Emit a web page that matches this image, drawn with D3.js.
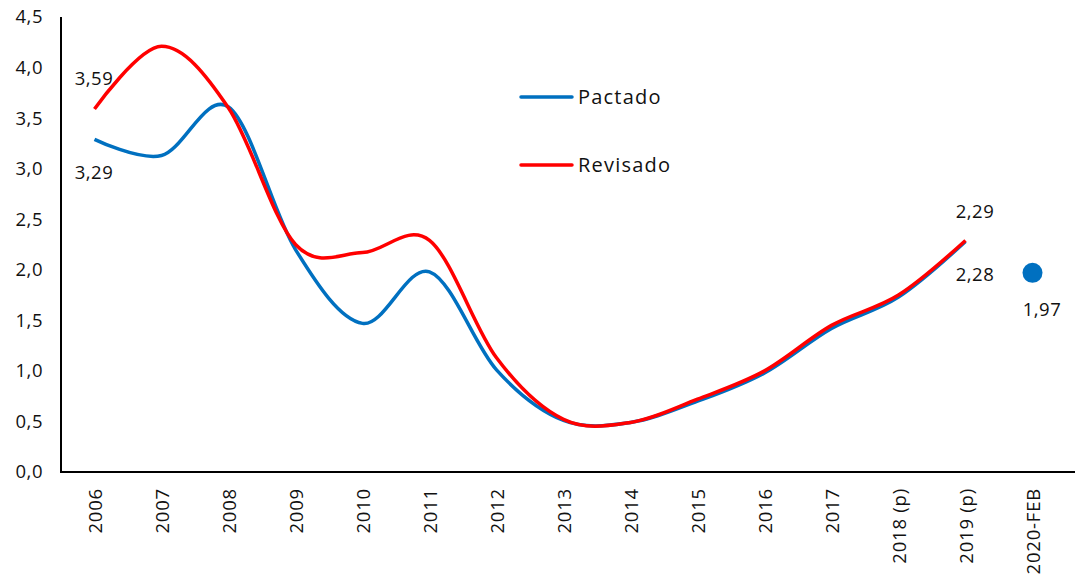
<!DOCTYPE html>
<html><head><meta charset="utf-8">
<script src="https://cdn.jsdelivr.net/npm/d3@7"></script>
<style>body{margin:0;background:#fff;}svg{font-family:"Open Sans",sans-serif;}</style>
</head><body><svg id="c" width="1075" height="575"></svg>
<script>
const categories = ["2006","2007","2008","2009","2010","2011","2012","2013","2014","2015","2016","2017","2018 (p)","2019 (p)","2020-FEB"];
const pactado = [3.29,3.13,3.61,2.20,1.47,1.98,1.01,0.51,0.49,0.70,0.98,1.42,1.73,2.28];
const revisado = [3.59,4.21,3.60,2.25,2.17,2.29,1.13,0.52,0.49,0.72,1.00,1.45,1.75,2.29];
const feb2020 = 1.97;
const yTicks = [0,0.5,1,1.5,2,2.5,3,3.5,4,4.5];
const fmt = v => d3.format(".1f")(v).replace(".", ",");
const fmt2 = v => d3.format(".2f")(v).replace(".", ",");

const svg = d3.select("#c");
const x = d3.scaleBand().domain(categories).range([61,1066]);
const y = d3.scaleLinear().domain([0,4.5]).range([472,17]);
const cx = c => x(c) + x.bandwidth()/2;

// y axis labels
svg.append("g").selectAll("text").data(yTicks).join("text")
  .attr("x",43).attr("y",d=>y(d)).attr("dy","0.35em").attr("text-anchor","end")
  .attr("font-size",18.5).attr("letter-spacing",0.5).attr("fill","#111").text(fmt);
// x labels
svg.append("g").selectAll("text").data(categories).join("text")
  .attr("transform",d=>`translate(${cx(d)+7},488) rotate(-90)`)
  .attr("text-anchor","end").attr("font-size",18.5).attr("letter-spacing",0.8).attr("fill","#111").text(d=>d);

const line = d3.line().x((d,i)=>cx(categories[i])).y(d=>y(d)).curve(d3.curveCardinal.tension(0));
svg.append("path").attr("d",line(pactado)).attr("fill","none").attr("stroke","#0070C0").attr("stroke-width",3.5);
svg.append("path").attr("d",line(revisado)).attr("fill","none").attr("stroke","#FF0000").attr("stroke-width",3.5);

svg.append("circle").attr("cx",cx("2020-FEB")).attr("cy",y(feb2020)).attr("r",10).attr("fill","#0070C0");

// axes
svg.append("line").attr("x1",61).attr("x2",61).attr("y1",17).attr("y2",472).attr("stroke","#000").attr("stroke-width",2);
svg.append("line").attr("x1",60).attr("x2",1075).attr("y1",472).attr("y2",472).attr("stroke","#000").attr("stroke-width",2);

// data labels
const lab = (t,xx,yy)=>svg.append("text").attr("x",xx).attr("y",yy).attr("dy","0.35em").attr("text-anchor","middle").attr("font-size",18.5).attr("letter-spacing",0.5).attr("fill","#111").text(t);
lab(fmt2(revisado[0]),94,79);
lab(fmt2(pactado[0]),94,173);
lab(fmt2(revisado[13]),975,212);
lab(fmt2(pactado[13]),975,275);
lab(fmt2(feb2020),1042,310);

// legend
const leg = [["Pactado","#0070C0",97],["Revisado","#FF0000",165]];
leg.forEach(([n,c,yy])=>{
  svg.append("line").attr("x1",521).attr("x2",572).attr("y1",yy).attr("y2",yy).attr("stroke",c).attr("stroke-width",3.5).attr("stroke-linecap","round");
  svg.append("text").attr("x",578).attr("y",yy).attr("dy","0.35em").attr("font-size",20).attr("letter-spacing",1.2).attr("fill","#111").text(n);
});
</script></body></html>
